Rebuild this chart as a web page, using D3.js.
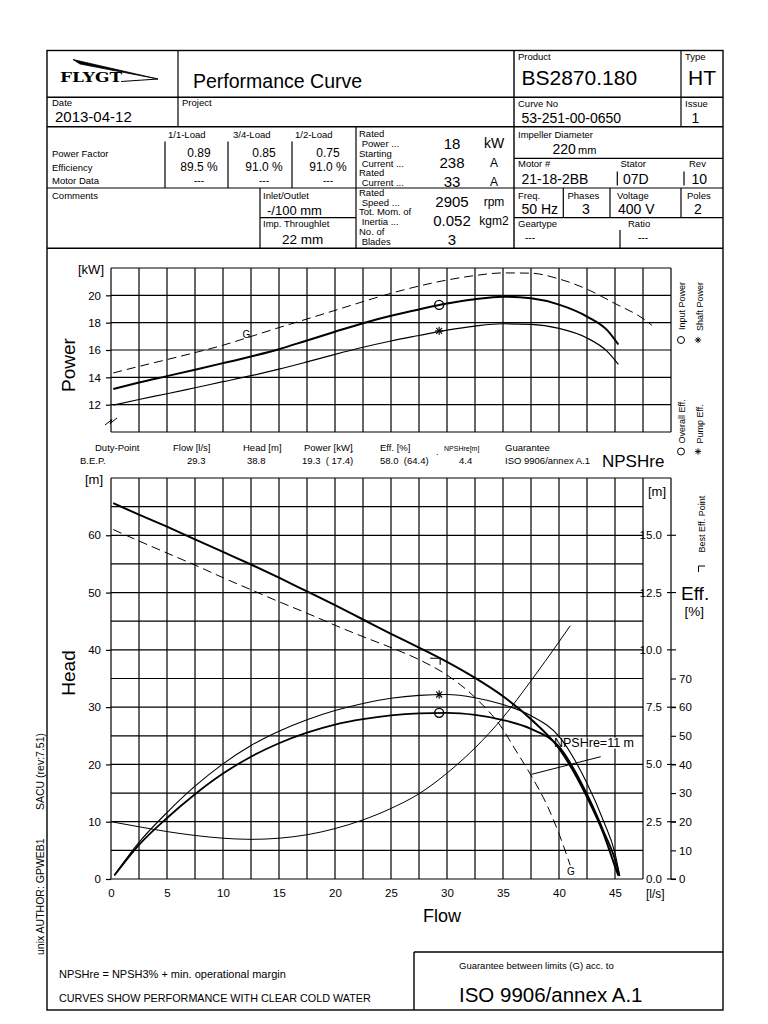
<!DOCTYPE html>
<html><head><meta charset="utf-8">
<script src="https://cdn.jsdelivr.net/npm/d3@7"></script>
<style>
body{margin:0;background:#fff}
svg{display:block}
text{font-family:"Liberation Sans",Arial,Helvetica,sans-serif;fill:#000;white-space:pre}
</style></head>
<body><svg id="c" width="768" height="1024"></svg>
<script>
// ---------------- DATA ----------------
const flowTicks  = [0,5,10,15,20,25,30,35,40,45];
const powerTicks = [12,14,16,18,20];
const headTicks  = [0,10,20,30,40,50,60];
const npshTicks  = [0,2.5,5,7.5,10,12.5,15];
const effTicks   = [0,10,20,30,40,50,60,70];

// power [kW] vs flow [l/s]
const powerFlow  = [0.2,2.5,5,7.5,10,12.5,15,17.5,20,22.5,25,27.5,30,32.5,35,37.5,40,42.5,44.3,45.3];
const inputPower = [13.15,13.62,14.09,14.56,15.04,15.53,16.06,16.7,17.34,17.96,18.5,18.97,19.4,19.72,19.9,19.78,19.32,18.45,17.45,16.4];
const shaftPower = [11.97,12.38,12.8,13.24,13.68,14.12,14.6,15.13,15.68,16.2,16.66,17.06,17.45,17.75,17.92,17.88,17.58,16.88,15.9,14.95];
const powerGFlow = [0.2,2.5,5,7.5,10,12.5,15,17.5,20,22.5,25,27.5,30,32.5,35,37.5,40,42.5,45,47.5,48.3];
const powerG     = [14.32,14.8,15.3,15.81,16.35,16.99,17.64,18.27,18.9,19.54,20.15,20.68,21.12,21.45,21.64,21.62,21.2,20.45,19.4,18.3,17.8];

// head [m]
const headFlow  = [0.2,2.5,5,7.5,10,12.5,15,17.5,20,22.5,25,27.5,30,32.5,35,37.5,40,42.5,44,45,45.3];
const head      = [65.6,63.6,61.5,59.3,57.1,54.9,52.6,50.2,47.8,45.3,42.8,40.4,37.9,35.1,31.9,27.9,22.8,14.3,7.8,2.2,0.6];
const headGFlow = [0.2,2.5,5,7.5,10,12.5,15,17.5,20,22.5,25,27.5,30,32.5,35,36,37.5,39,40,41];
const headG     = [61.0,59.0,56.9,54.8,52.6,50.5,48.4,46.4,44.3,42.3,40.4,38.3,35.6,31.7,26.1,22.9,18.1,12.6,7.9,2.4];

// efficiency [%]
const effFlow    = [0.3,2.5,5,7.5,10,12.5,15,17.5,20,22.5,25,27.5,30,32.5,35,37.5,40,42.5,44,45,45.4];
const pumpEff    = [1.4,12.8,23.2,32.4,40.2,46.6,51.6,55.6,58.8,61.3,63.1,64.1,64.4,63.3,60.9,57.0,49.8,33.4,20,9,1.5];
const overallEff = [1.2,11.9,21.3,29.6,36.8,42.7,47.4,51.1,53.9,55.8,57.1,57.8,58.0,57.3,55.5,52.4,46.2,29.6,16.5,6.8,1];

// NPSHre [m]
const npshFlow = [0,2.5,5,7.5,10,12.5,15,17.5,20,22.5,25,27.5,30,32.5,35,37.5,40,41];
const npsh     = [2.5,2.28,2.07,1.9,1.78,1.73,1.78,1.93,2.2,2.58,3.08,3.72,4.62,5.72,7.05,8.65,10.35,11.05];

// best efficiency point
const bepFlow = 29.3, bepHead = 38.8, bepP1 = 19.3, bepP2 = 17.4, bepEffO = 58.0, bepEffP = 64.4;

// ---------------- DRAW ----------------
const svg = d3.select("#c");
const x  = d3.scaleLinear().domain([0,50]).range([111,671]);
const yP = d3.scaleLinear().domain([10,22]).range([432,268]);
const yH = d3.scaleLinear().domain([0,70]).range([879,478]);
const yN = d3.scaleLinear().domain([0,17.5]).range([879,478]);
const yE = d3.scaleLinear().domain([0,140]).range([879,478]);

function ln(x1,y1,x2,y2,w){svg.append("line").attr("x1",x1).attr("y1",y1).attr("x2",x2).attr("y2",y2)
  .attr("stroke","#000").attr("stroke-width",w||1.2);}
function tx(x0,y0,s,size,anchor,extra){const t=svg.append("text").attr("x",x0).attr("y",y0)
  .attr("font-size",size).text(s); if(anchor) t.attr("text-anchor",anchor); if(extra) extra(t); return t;}
function rtx(x0,y0,s,size,anchor){return svg.append("text").attr("transform",`translate(${x0},${y0}) rotate(-90)`)
  .attr("font-size",size).attr("text-anchor",anchor||"start").text(s);}

// frame
svg.append("rect").attr("x",47).attr("y",50.5).attr("width",676).attr("height",959.5)
  .attr("fill","none").attr("stroke","#000").attr("stroke-width",1.4);

// header grid lines
ln(47,97.3,723,97.3,1.4); ln(47,126.7,723,126.7,1.6); ln(47,188,723,188); ln(47,248.3,723,248.3,1.4);
ln(514,158.3,723,158.3); ln(514,217.7,723,217.7); ln(260,217.7,356,217.7);
ln(178,50.5,178,126.7); ln(514,50.5,514,248.3,1.4); ln(681,50.5,681,126.7);
ln(356,126.7,356,248.3); ln(260,188,260,248.3);
ln(165,141.5,165,188); ln(228,141.5,228,188); ln(292,141.5,292,188);
ln(563.3,188,563.3,217.7); ln(610,188,610,217.7); ln(681,188,681,217.7);
ln(617.3,171.5,617.3,185.5); ln(684,171.5,684,185.5); ln(620,230,620,248.3);

// logo
svg.append("path").attr("d","M73,59.5 L158,79 L80,64 Z").attr("fill","#000").attr("stroke","#000").attr("stroke-width",0.8);
svg.append("path").attr("d","M158,79 L121,81.5").attr("stroke","#000").attr("stroke-width",1.2).attr("fill","none");
tx(60,81.5,"FLYGT",12,null,t=>t.style("font-family","'DejaVu Serif',serif").attr("font-weight","bold")
  .attr("textLength",62).attr("lengthAdjust","spacingAndGlyphs"));
tx(193,88,"Performance Curve",19.5);

// header texts (left)
tx(52,106,"Date",9.5); tx(55,122,"2013-04-12",15); tx(182,106,"Project",9.5);
tx(168,137.5,"1/1-Load",9.5); tx(233,137.5,"3/4-Load",9.5); tx(295,137.5,"1/2-Load",9.5);
tx(52,157,"Power Factor",9.5); tx(52,170.5,"Efficiency",9.5); tx(52,183.5,"Motor Data",9.5);
[["0.89","89.5 %","---",199],["0.85","91.0 %","---",264],["0.75","91.0 %","---",328]].forEach(c=>{
  tx(c[3],157,c[0],12,"middle"); tx(c[3],170.5,c[1],12,"middle"); tx(c[3],183.5,c[2],10,"middle");});
const ratedLbl=["Rated"," Power ...","Starting"," Current ...","Rated"," Current ...","Rated"," Speed ...","Tot. Mom. of"," Inertia ...","No. of"," Blades"];
const ratedY=[136.5,147,156.5,166.5,175.5,185.5,195.5,205.5,214.5,225,234.5,244.5];
ratedLbl.forEach((s,i)=>tx(359,ratedY[i],s,9.5));
[["18","kW",149],["238","A",167.5],["33","A",186.5],["2905","rpm",206.5],["0.052","kgm2",226],["3","",245]].forEach(r=>{
  tx(452,r[2],r[0],15,"middle"); if(r[1]) tx(494,r[2]-1,r[1],r[1]==="kW"?14:12,"middle");});
tx(52,198.5,"Comments",9.5); tx(263,198.5,"Inlet/Outlet",9.5); tx(267,215,"-/100 mm",13);
tx(263,227,"Imp. Throughlet",9.5); tx(282,243.5,"22 mm",13.5);

// header texts (right)
tx(518,60,"Product",9.5); tx(521.5,85,"BS2870.180",21); tx(685,60,"Type",9.5); tx(688,85,"HT",21);
tx(518,107,"Curve No",9.5); tx(521.5,123,"53-251-00-0650",14); tx(685,107,"Issue",9.5); tx(691.5,123,"1",14);
tx(518,138,"Impeller Diameter",9.5); tx(552.5,153.5,"220",14); tx(578,153.5,"mm",11);
tx(518,167,"Motor #",9.5); tx(620.5,167,"Stator",9.5); tx(689,167,"Rev",9.5);
tx(521.5,184,"21-18-2BB",14); tx(623,184,"07D",14); tx(691.5,184,"10",14);
tx(518,198.5,"Freq.",9.5); tx(567.5,198.5,"Phases",9.5); tx(617,198.5,"Voltage",9.5); tx(687,198.5,"Poles",9.5);
tx(521.5,213.5,"50 Hz",14); tx(586,213.5,"3",14,"middle"); tx(618,213.5,"400 V",14); tx(698,213.5,"2",14,"middle");
tx(518,227,"Geartype",9.5); tx(628,227,"Ratio",9.5); tx(525,241,"---",10); tx(638,241,"---",10);

// ---------- POWER CHART ----------
const gP = svg.append("g");
d3.range(0,50.01,2.5).forEach(f=>gP.append("line").attr("x1",x(f)).attr("x2",x(f)).attr("y1",yP(22)).attr("y2",yP(10))
  .attr("stroke","#000").attr("stroke-width",1.2));
d3.range(10,22.01,2).forEach(v=>gP.append("line").attr("x1",x(0)).attr("x2",x(50)).attr("y1",yP(v)).attr("y2",yP(v))
  .attr("stroke","#000").attr("stroke-width",1.2));
const axP = gP.append("g").attr("transform",`translate(${x(0)},0)`)
  .call(d3.axisLeft(yP).tickValues(powerTicks).tickSize(5).tickPadding(5));
axP.select(".domain").remove();
axP.selectAll("text").attr("font-size",11.5).attr("font-family",null);
axP.selectAll("line").attr("stroke-width",1.2);
// axis break
svg.append("path").attr("d","M105,425 L112,419.5 L110,423.5 L117,418").attr("fill","none").attr("stroke","#000").attr("stroke-width",1);
tx(78,273.5,"[kW]",13);
rtx(75,365,"Power",19,"middle");

const lineP = d3.line().x(d=>x(d[0])).y(d=>yP(d[1])).curve(d3.curveMonotoneX);
svg.append("path").attr("d",lineP(d3.zip(powerGFlow,powerG))).attr("fill","none").attr("stroke","#000")
  .attr("stroke-width",1).attr("stroke-dasharray","9,5");
svg.append("path").attr("d",lineP(d3.zip(powerFlow,inputPower))).attr("fill","none").attr("stroke","#000").attr("stroke-width",2);
svg.append("path").attr("d",lineP(d3.zip(powerFlow,shaftPower))).attr("fill","none").attr("stroke","#000").attr("stroke-width",1.2);
tx(242.5,337.5,"G",10);

function star(cx,cy,r,w){[0,45,90,135].forEach(a=>{const dx=r*Math.cos(a*Math.PI/180),dy=r*Math.sin(a*Math.PI/180);
  ln(cx-dx,cy-dy,cx+dx,cy+dy,w||1);});}
function circ(cx,cy,r,w){svg.append("circle").attr("cx",cx).attr("cy",cy).attr("r",r).attr("fill","none")
  .attr("stroke","#000").attr("stroke-width",w||1.2);}
circ(x(bepFlow),yP(bepP1),4.5,1.4);
star(x(bepFlow),yP(bepP2),4.2,1.1);

// right legends
rtx(684.5,282,"Input Power",9,"end"); rtx(702.5,282,"Shaft Power",9,"end");
circ(681,340,3.5,1); star(698,340,3.2,0.9);
rtx(684.5,443.5,"Overall Eff.",9,"start"); rtx(702.5,443.5,"Pump Eff.",9,"start");
circ(681,451.5,3.5,1); star(698,451.5,3.2,0.9);

// duty point row
tx(95,451,"Duty-Point",9.5); tx(173,451,"Flow [l/s]",9.5); tx(243,451,"Head [m]",9.5);
tx(304,451,"Power [kW]",9.5); tx(380,451,"Eff. [%]",9.5); tx(444,451,"NPSHre[m]",7);
tx(505,451,"Guarantee",9.5);
tx(80,464,"B.E.P.",9.5); tx(187,464,"29.3",9.5); tx(247,464,"38.8",9.5); tx(302,464,"19.3  ( 17.4)",9.5);
tx(380,464,"58.0  (64.4)",9.5); tx(459,464,"4.4",9.5); tx(505,464,"ISO 9906/annex A.1",9.5);
tx(351,452,".",9); tx(436,455,".",9);
tx(602,467,"NPSHre",17);

// ---------- HEAD CHART ----------
const gH = svg.append("g");
d3.range(0,50.01,2.5).forEach(f=>gH.append("line").attr("x1",x(f)).attr("x2",x(f)).attr("y1",yH(70)).attr("y2",yH(0))
  .attr("stroke","#000").attr("stroke-width",1.2));
d3.range(0,70.01,5).forEach(v=>gH.append("line").attr("x1",x(0)).attr("x2",v===70?x(50):x(47.5)).attr("y1",yH(v)).attr("y2",yH(v))
  .attr("stroke","#000").attr("stroke-width",1.2));
const axH = gH.append("g").attr("transform",`translate(${x(0)},0)`)
  .call(d3.axisLeft(yH).tickValues(headTicks).tickSize(5).tickPadding(5));
axH.select(".domain").remove();
axH.selectAll("text").attr("font-size",11.5).attr("font-family",null);
axH.selectAll("line").attr("stroke-width",1.2);
const axX = gH.append("g").attr("transform",`translate(0,${yH(0)})`)
  .call(d3.axisBottom(x).tickValues(flowTicks).tickSize(0).tickPadding(10));
axX.select(".domain").remove();
axX.selectAll("text").attr("font-size",11.5).attr("font-family",null);
tx(85,483.5,"[m]",13);
rtx(75,673,"Head",19,"middle");
tx(646,897.5,"[l/s]",12);
tx(442,922,"Flow",18,"middle");

// NPSH right scale
npshTicks.forEach(v=>{
  gH.append("text").attr("x",662).attr("y",yN(v)).attr("dy","0.35em").attr("text-anchor","end")
    .attr("font-size",11.5).text(d3.format(".1f")(v));
  gH.append("line").attr("x1",667).attr("x2",676).attr("y1",yN(v)).attr("y2",yN(v)).attr("stroke","#000").attr("stroke-width",1.1);
});
const axE = gH.append("g").attr("transform",`translate(${x(50)},0)`)
  .call(d3.axisRight(yE).tickValues(effTicks).tickSize(5).tickPadding(3));
axE.select(".domain").remove();
axE.selectAll("text").attr("font-size",11.5).attr("font-family",null);
axE.selectAll("line").attr("stroke-width",1.1);
tx(648,496,"[m]",13);
tx(681,600,"Eff.",19); tx(684.5,615.5,"[%]",13.5);
rtx(705,552.5,"Best Eff. Point",9,"start");
svg.append("path").attr("d","M698.5,572 V566 H705").attr("fill","none").attr("stroke","#000").attr("stroke-width",1);

// NPSHre label background
svg.append("rect").attr("x",553).attr("y",737.6).attr("width",74).attr("height",11).attr("fill","#fff");

const lineH = d3.line().x(d=>x(d[0])).y(d=>yH(d[1])).curve(d3.curveMonotoneX);
const lineE = d3.line().x(d=>x(d[0])).y(d=>yE(d[1])).curve(d3.curveMonotoneX);
const lineN = d3.line().x(d=>x(d[0])).y(d=>yN(d[1])).curve(d3.curveMonotoneX);
svg.append("path").attr("d",lineH(d3.zip(headGFlow,headG))).attr("fill","none").attr("stroke","#000")
  .attr("stroke-width",1).attr("stroke-dasharray","9,5");
svg.append("path").attr("d",lineN(d3.zip(npshFlow,npsh))).attr("fill","none").attr("stroke","#000").attr("stroke-width",1);
svg.append("path").attr("d",lineE(d3.zip(effFlow,pumpEff))).attr("fill","none").attr("stroke","#000").attr("stroke-width",1.1);
svg.append("path").attr("d",lineE(d3.zip(effFlow,overallEff))).attr("fill","none").attr("stroke","#000").attr("stroke-width",1.8);
svg.append("path").attr("d",lineH(d3.zip(headFlow,head))).attr("fill","none").attr("stroke","#000").attr("stroke-width",2);

// markers
star(x(bepFlow),yE(bepEffP),4.2,1.1);
circ(x(bepFlow),yE(bepEffO),4.5,1.4);
const bx=x(bepFlow), by=yH(bepHead);
svg.append("path").attr("d",`M${bx-9},${by+1.5} H${bx+1} V${by+8}`).attr("fill","none").attr("stroke","#000").attr("stroke-width",1.1);

tx(554,747,"NPSHre=11 m",12.5);
ln(531.7,774.3,600.7,756.7,1);
tx(567,875,"G",10);

// bottom
ln(414,952,723,952,1.4); ln(414,952,414,1010,1.4);
tx(459,969,"Guarantee between limits (G) acc. to",9.5);
tx(459,1002,"ISO 9906/annex A.1",20.5);
tx(59,978,"NPSHre = NPSH3% + min. operational margin",11);
tx(59,1002,"CURVES SHOW PERFORMANCE WITH CLEAR COLD WATER",10.8);
rtx(44,955,"unix AUTHOR: GPWEB1",10.5,"start");
rtx(44,733,"SACU (rev:7.51)",10.5,"end");
</script>
</body></html>
